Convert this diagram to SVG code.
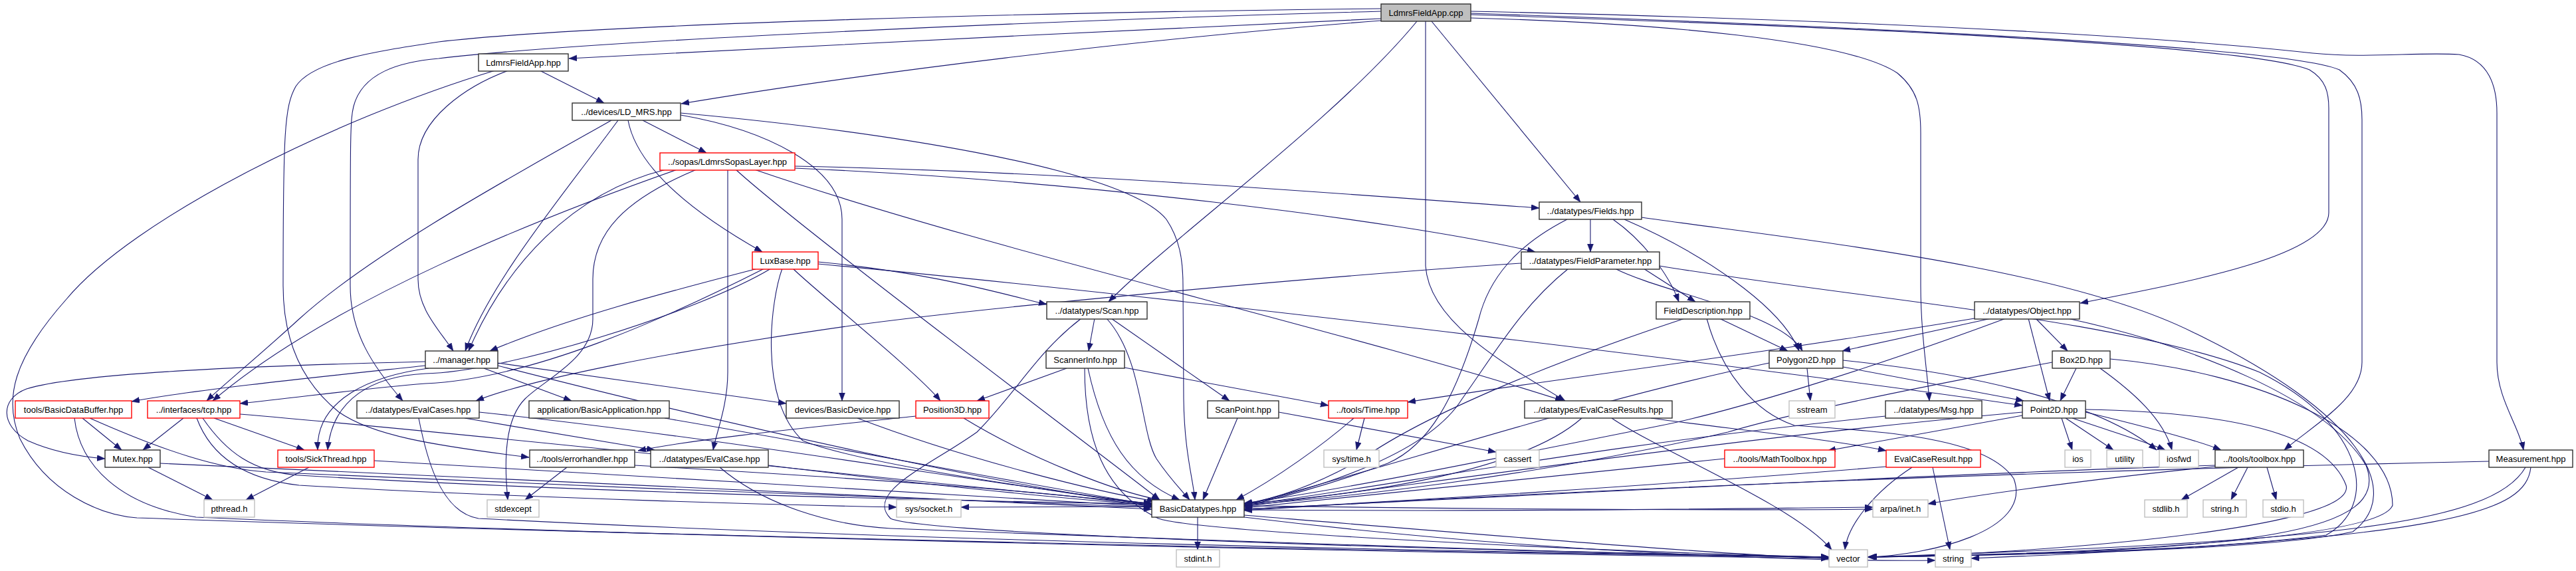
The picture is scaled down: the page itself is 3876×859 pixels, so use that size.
<svg xmlns="http://www.w3.org/2000/svg" width="3876" height="859" viewBox="0 0 3876 859">
<style>
.bg{fill:#ffffff}
.e{fill:none;stroke:#191970;stroke-width:1.1;marker-end:url(#ah)}
.n rect{fill:#ffffff;stroke:#303030;stroke-width:1.4}
.r rect{fill:#ffffff;stroke:#ff0000;stroke-width:1.4}
.g rect{fill:#ffffff;stroke:#bfbfbf;stroke-width:1.4}
.root rect{fill:#bfbfbf;stroke:#303030;stroke-width:1.4}
text{font-family:"Liberation Sans",Arial,sans-serif;font-size:13px;fill:#000000;text-anchor:middle}
</style>
<defs>
<marker id="ah" markerUnits="userSpaceOnUse" markerWidth="13" markerHeight="10" refX="12" refY="4.5" orient="auto">
<path d="M0,0 L12,4.5 L0,9 z" fill="#191970" stroke="#191970" stroke-width="0.5"/>
</marker>
</defs>
<rect class="bg" x="0" y="0" width="3876" height="859"/>
<g id="edges">
<path class="e" d="M2078,28 C1700,45 1200,70 856,88"/>
<path class="e" d="M2078,31 C1700,60 1300,110 1025,156"/>
<path class="e" d="M2078,13 C1600,18 900,35 660,63 C560,78 470,92 445,130 C428,160 426,200 426,430 C426,520 460,580 510,620 C560,655 650,670 796,688"/>
<path class="e" d="M2078,17 C1600,30 900,60 660,88 C600,93 545,110 532,160 C527,180 527,200 527,430 C527,500 560,550 606,603"/>
<path class="e" d="M2132,32 C2010,180 1760,360 1668,454"/>
<path class="e" d="M2145,32 L2145,400 C2150,480 2250,540 2355,603"/>
<path class="e" d="M2154,32 L2378,304"/>
<path class="e" d="M2213,27 C2500,35 2780,60 2855,110 C2885,135 2890,160 2890,200 L2890,430 C2890,500 2900,560 2903,603"/>
<path class="e" d="M2213,22 C2700,38 3380,65 3475,105 C3500,120 3504,140 3504,163 L3504,320 C3504,385 3290,425 3130,456"/>
<path class="e" d="M2213,20 C2800,40 3440,70 3520,105 C3548,125 3554,150 3554,180 L3554,545 C3554,600 3480,640 3437,677"/>
<path class="e" d="M2213,17 C2900,32 3300,60 3480,80 C3560,88 3640,78 3700,82 C3745,90 3757,130 3757,170 L3757,545 C3757,600 3790,640 3797,677"/>
<path class="e" d="M812,106 L909,155"/>
<path class="e" d="M765,106 C700,130 629,180 629,240 L629,420 C629,465 660,495 682,528"/>
<path class="e" d="M745,106 C500,180 200,330 100,450 C20,540 5,600 30,660 C70,740 150,775 206,779 C800,800 2000,830 2752,838"/>
<path class="e" d="M967,181 L1063,230"/>
<path class="e" d="M945,181 C960,260 1060,330 1147,379"/>
<path class="e" d="M930,181 C850,290 740,420 700,528"/>
<path class="e" d="M920,181 C780,260 560,380 450,480 C390,535 335,580 311,603"/>
<path class="e" d="M1024,173 C1150,195 1267,250 1267,330 L1267,603"/>
<path class="e" d="M1024,170 C1300,195 1690,250 1755,330 C1775,360 1780,390 1780,430 L1781,600 C1782,680 1795,720 1798,752"/>
<path class="e" d="M1019,255 C820,325 500,450 320,603"/>
<path class="e" d="M1002,255 C860,290 760,400 705,528"/>
<path class="e" d="M1048,255 C940,300 892,350 892,420 L892,480 C892,540 820,570 790,600 C760,630 758,690 764,752"/>
<path class="e" d="M1095,255 L1095,560 C1095,610 1078,650 1073,677"/>
<path class="e" d="M1107,255 C1200,340 1600,640 1745,752"/>
<path class="e" d="M1135,255 C1500,380 2000,490 2352,603"/>
<path class="e" d="M1196,250 C1600,258 2000,290 2316,313"/>
<path class="e" d="M1196,253 C1600,270 2100,330 2310,379"/>
<path class="e" d="M1140,404 C1000,440 850,480 737,528"/>
<path class="e" d="M1150,404 C1000,480 800,570 640,577 C540,585 450,598 361,607"/>
<path class="e" d="M1160,404 C1050,470 760,560 640,562 C560,566 500,600 493,677"/>
<path class="e" d="M1193,404 C1230,440 1380,560 1415,603"/>
<path class="e" d="M1177,404 C1160,450 1140,600 1208,663 C1300,700 1600,740 1733,760"/>
<path class="e" d="M1231,394 C1400,410 1500,440 1575,458"/>
<path class="e" d="M1231,397 C1800,450 2700,560 3043,610"/>
<path class="e" d="M640,544 C400,550 120,560 40,585 C0,600 0,640 42,663 C80,680 120,687 158,690"/>
<path class="e" d="M640,550 C500,565 300,585 198,604"/>
<path class="e" d="M645,554 C560,565 475,600 478,677"/>
<path class="e" d="M728,554 L860,603"/>
<path class="e" d="M749,546 L1183,607"/>
<path class="e" d="M749,550 C1100,640 1500,730 1733,760"/>
<path class="e" d="M124,629 L183,677"/>
<path class="e" d="M135,629 C250,680 330,705 400,710 C800,730 1400,750 1733,763"/>
<path class="e" d="M112,629 C120,700 180,760 295,778 C900,805 2000,830 2752,840"/>
<path class="e" d="M276,629 L215,677"/>
<path class="e" d="M322,629 L458,677"/>
<path class="e" d="M361,623 C800,660 1500,740 1733,757"/>
<path class="e" d="M296,629 C315,680 360,720 450,730 C800,750 1200,760 1349,763"/>
<path class="e" d="M305,629 C340,680 380,710 450,715 C1200,760 2400,770 2818,766"/>
<path class="e" d="M699,629 L985,677"/>
<path class="e" d="M721,620 C1100,660 1500,730 1733,758"/>
<path class="e" d="M630,629 C640,680 660,770 720,780 C1400,815 2200,830 2752,838"/>
<path class="e" d="M2289,396 C2000,415 1500,460 1280,490 C1000,530 800,570 716,603"/>
<path class="e" d="M1000,629 C1300,680 1600,740 1733,759"/>
<path class="e" d="M1290,629 C1450,690 1650,740 1738,754"/>
<path class="e" d="M1378,626 C1200,645 1050,660 960,678"/>
<path class="e" d="M1450,629 C1550,690 1680,740 1745,752"/>
<path class="e" d="M1647,479 L1638,528"/>
<path class="e" d="M1672,479 L1850,603"/>
<path class="e" d="M1665,479 C1720,540 1716,650 1740,690 C1760,720 1780,740 1790,752"/>
<path class="e" d="M1627,479 C1560,530 1530,590 1470,650 C1400,700 1300,740 1340,780 C1380,800 2000,825 2752,838"/>
<path class="e" d="M1605,554 L1470,603"/>
<path class="e" d="M1692,553 L1999,610"/>
<path class="e" d="M1637,554 C1660,660 1700,720 1775,752"/>
<path class="e" d="M1632,554 C1632,660 1660,740 1743,780 C1800,800 2400,830 2752,838"/>
<path class="e" d="M1862,629 L1810,752"/>
<path class="e" d="M1924,620 L2251,680"/>
<path class="e" d="M2053,629 L2041,677"/>
<path class="e" d="M2037,629 C1990,670 1920,720 1860,752"/>
<path class="e" d="M2393,330 L2393,379"/>
<path class="e" d="M2427,330 C2470,360 2510,410 2526,454"/>
<path class="e" d="M2444,330 C2560,380 2680,460 2707,528"/>
<path class="e" d="M2358,330 C2280,370 2240,420 2225,480 C2190,600 2150,670 2088,697 C2000,730 1920,750 1872,762"/>
<path class="e" d="M2470,327 C2700,360 3100,400 3300,500 C3550,620 3620,740 3540,800 C3400,830 3000,835 2810,838"/>
<path class="e" d="M2473,404 L2551,454"/>
<path class="e" d="M2430,404 C2500,440 2680,470 2712,528"/>
<path class="e" d="M2360,404 C2290,460 2250,530 2200,600 C2150,680 2000,730 1872,760"/>
<path class="e" d="M2497,400 C2800,450 3200,480 3400,560 C3560,640 3580,760 3500,805 C3300,830 3000,836 2810,838"/>
<path class="e" d="M2587,479 L2690,528"/>
<path class="e" d="M2535,479 C2350,540 2150,620 2050,690 C1980,730 1920,750 1872,758"/>
<path class="e" d="M2568,479 C2590,560 2640,620 2700,640 C2850,650 2990,660 3030,720 C3060,800 2900,835 2812,838"/>
<path class="e" d="M2971,479 C2600,540 2300,575 2118,605"/>
<path class="e" d="M2996,479 L2772,528"/>
<path class="e" d="M3018,479 C2800,560 2600,620 2500,640 C2200,700 2000,740 1872,757"/>
<path class="e" d="M3052,479 L3084,603"/>
<path class="e" d="M3063,479 L3111,528"/>
<path class="e" d="M3111,479 C3300,520 3500,600 3560,700 C3600,800 3400,830 2812,838"/>
<path class="e" d="M2719,554 L2724,603"/>
<path class="e" d="M2773,552 L3045,603"/>
<path class="e" d="M2662,546 C2400,600 2100,700 1872,760"/>
<path class="e" d="M2773,542 C2950,560 3150,600 3245,677"/>
<path class="e" d="M3124,554 L3100,603"/>
<path class="e" d="M3160,554 C3210,590 3255,630 3268,677"/>
<path class="e" d="M3088,545 C2900,580 2700,620 2600,650 C2300,720 2000,750 1872,760"/>
<path class="e" d="M3175,540 C3400,560 3600,650 3600,760 C3580,820 3000,836 2812,838"/>
<path class="e" d="M3102,629 L3118,677"/>
<path class="e" d="M3108,629 L3180,677"/>
<path class="e" d="M3118,629 C3180,650 3230,665 3258,677"/>
<path class="e" d="M3138,620 C3200,635 3300,660 3342,677"/>
<path class="e" d="M3043,625 L2750,678"/>
<path class="e" d="M3043,620 C2600,660 2200,720 1872,762"/>
<path class="e" d="M3138,616 C3350,620 3500,650 3530,730 C3550,800 3000,836 2812,838"/>
<path class="e" d="M2837,626 C2400,670 2100,730 1872,760"/>
<path class="e" d="M2595,690 C2300,720 2000,750 1872,764"/>
<path class="e" d="M2425,629 C2500,680 2700,760 2756,827"/>
<path class="e" d="M2484,629 C2600,645 2750,660 2838,678"/>
<path class="e" d="M2380,629 C2300,700 2100,740 1872,758"/>
<path class="e" d="M2877,703 C2820,740 2780,790 2776,827"/>
<path class="e" d="M2908,703 L2934,827"/>
<path class="e" d="M2838,702 C2500,730 2100,755 1872,766"/>
<path class="e" d="M3368,703 L3282,752"/>
<path class="e" d="M3382,703 L3357,752"/>
<path class="e" d="M3411,703 L3425,752"/>
<path class="e" d="M3333,700 C3000,710 2400,740 1872,766"/>
<path class="e" d="M3333,702 C3200,715 3000,740 2901,758"/>
<path class="e" d="M3745,694 C3000,710 2300,740 1872,768"/>
<path class="e" d="M3800,703 C3750,790 3500,815 2812,838"/>
<path class="e" d="M3808,703 C3800,770 3700,810 2966,840"/>
<path class="e" d="M223,703 L320,752"/>
<path class="e" d="M241,697 C500,710 1200,740 1733,766"/>
<path class="e" d="M465,703 L370,752"/>
<path class="e" d="M563,693 C900,710 1400,745 1733,762"/>
<path class="e" d="M853,703 L790,752"/>
<path class="e" d="M955,700 C1300,720 1600,740 1733,762"/>
<path class="e" d="M1156,700 C1400,730 1600,750 1733,760"/>
<path class="e" d="M1083,703 C1150,760 1250,790 1340,795 C2000,820 2500,835 2752,838"/>
<path class="e" d="M1802,778 L1802,827"/>
<path class="e" d="M1733,762 L1446,763"/>
<path class="e" d="M1872,767 C2300,770 2600,765 2818,763"/>
<path class="e" d="M1872,775 C2300,810 2600,835 2752,840"/>
<path class="e" d="M1872,778 C2300,830 2700,845 2912,843"/>
</g>
<g id="cpp" class="root"><rect x="2078" y="6" width="135" height="26"/><text x="2145.5" y="23.5">LdmrsFieldApp.cpp</text></g>
<g id="fapp_hpp" class="n"><rect x="720" y="81" width="135" height="26"/><text x="787.5" y="98.5">LdmrsFieldApp.hpp</text></g>
<g id="ldmrs" class="n"><rect x="861" y="155" width="163" height="26"/><text x="942.5" y="172.5">../devices/LD_MRS.hpp</text></g>
<g id="sopas" class="r"><rect x="993" y="230" width="203" height="26"/><text x="1094.5" y="247.5">../sopas/LdmrsSopasLayer.hpp</text></g>
<g id="fields" class="n"><rect x="2316" y="304" width="154" height="26"/><text x="2393" y="321.5">../datatypes/Fields.hpp</text></g>
<g id="luxbase" class="r"><rect x="1132" y="379" width="99" height="26"/><text x="1181.5" y="396.5">LuxBase.hpp</text></g>
<g id="fieldparam" class="n"><rect x="2289" y="379" width="208" height="26"/><text x="2393" y="396.5">../datatypes/FieldParameter.hpp</text></g>
<g id="scan" class="n"><rect x="1575" y="454" width="151" height="26"/><text x="1650.5" y="471.5">../datatypes/Scan.hpp</text></g>
<g id="fielddesc" class="n"><rect x="2492" y="454" width="141" height="26"/><text x="2562.5" y="471.5">FieldDescription.hpp</text></g>
<g id="object" class="n"><rect x="2971" y="454" width="158" height="26"/><text x="3050" y="471.5">../datatypes/Object.hpp</text></g>
<g id="manager" class="n"><rect x="640" y="528" width="109" height="26"/><text x="694.5" y="545.5">../manager.hpp</text></g>
<g id="scannerinfo" class="n"><rect x="1574" y="528" width="118" height="26"/><text x="1633" y="545.5">ScannerInfo.hpp</text></g>
<g id="polygon2d" class="n"><rect x="2662" y="528" width="111" height="26"/><text x="2717.5" y="545.5">Polygon2D.hpp</text></g>
<g id="box2d" class="n"><rect x="3088" y="528" width="87" height="26"/><text x="3131.5" y="545.5">Box2D.hpp</text></g>
<g id="bdb" class="r"><rect x="23" y="603" width="175" height="26"/><text x="110.5" y="620.5">tools/BasicDataBuffer.hpp</text></g>
<g id="tcp" class="r"><rect x="222" y="603" width="139" height="26"/><text x="291.5" y="620.5">../interfaces/tcp.hpp</text></g>
<g id="evalcases" class="n"><rect x="537" y="603" width="184" height="26"/><text x="629" y="620.5">../datatypes/EvalCases.hpp</text></g>
<g id="basicapp" class="n"><rect x="796" y="603" width="211" height="26"/><text x="901.5" y="620.5">application/BasicApplication.hpp</text></g>
<g id="basicdev" class="n"><rect x="1183" y="603" width="170" height="26"/><text x="1268" y="620.5">devices/BasicDevice.hpp</text></g>
<g id="pos3d" class="r"><rect x="1378" y="603" width="110" height="26"/><text x="1433" y="620.5">Position3D.hpp</text></g>
<g id="scanpoint" class="n"><rect x="1817" y="603" width="107" height="26"/><text x="1870.5" y="620.5">ScanPoint.hpp</text></g>
<g id="time" class="r"><rect x="1999" y="603" width="119" height="26"/><text x="2058.5" y="620.5">../tools/Time.hpp</text></g>
<g id="evalcaseresults" class="n"><rect x="2294" y="603" width="222" height="26"/><text x="2405" y="620.5">../datatypes/EvalCaseResults.hpp</text></g>
<g id="sstream" class="g"><rect x="2692" y="603" width="69" height="26"/><text x="2726.5" y="620.5">sstream</text></g>
<g id="msg" class="n"><rect x="2837" y="603" width="145" height="26"/><text x="2909.5" y="620.5">../datatypes/Msg.hpp</text></g>
<g id="point2d" class="n"><rect x="3043" y="603" width="95" height="26"/><text x="3090.5" y="620.5">Point2D.hpp</text></g>
<g id="mutex" class="n"><rect x="158" y="677" width="83" height="26"/><text x="199.5" y="694.5">Mutex.hpp</text></g>
<g id="sickthread" class="r"><rect x="418" y="677" width="145" height="26"/><text x="490.5" y="694.5">tools/SickThread.hpp</text></g>
<g id="errorhandler" class="n"><rect x="797" y="677" width="158" height="26"/><text x="876" y="694.5">../tools/errorhandler.hpp</text></g>
<g id="evalcase" class="n"><rect x="979" y="677" width="177" height="26"/><text x="1067.5" y="694.5">../datatypes/EvalCase.hpp</text></g>
<g id="systime" class="g"><rect x="1992" y="677" width="83" height="26"/><text x="2033.5" y="694.5">sys/time.h</text></g>
<g id="cassert" class="g"><rect x="2251" y="677" width="65" height="26"/><text x="2283.5" y="694.5">cassert</text></g>
<g id="mathtoolbox" class="r"><rect x="2595" y="677" width="166" height="26"/><text x="2678" y="694.5">../tools/MathToolbox.hpp</text></g>
<g id="evalcaseresult" class="r"><rect x="2838" y="677" width="142" height="26"/><text x="2909" y="694.5">EvalCaseResult.hpp</text></g>
<g id="ios" class="g"><rect x="3107" y="677" width="39" height="26"/><text x="3126.5" y="694.5">ios</text></g>
<g id="utility" class="g"><rect x="3170" y="677" width="54" height="26"/><text x="3197" y="694.5">utility</text></g>
<g id="iosfwd" class="g"><rect x="3249" y="677" width="59" height="26"/><text x="3278.5" y="694.5">iosfwd</text></g>
<g id="toolbox" class="n"><rect x="3333" y="677" width="133" height="26"/><text x="3399.5" y="694.5">../tools/toolbox.hpp</text></g>
<g id="measurement" class="n"><rect x="3745" y="677" width="126" height="26"/><text x="3808" y="694.5">Measurement.hpp</text></g>
<g id="pthread" class="g"><rect x="307" y="752" width="76" height="26"/><text x="345" y="769.5">pthread.h</text></g>
<g id="stdexcept" class="g"><rect x="733" y="752" width="78" height="26"/><text x="772" y="769.5">stdexcept</text></g>
<g id="syssocket" class="g"><rect x="1349" y="752" width="97" height="26"/><text x="1397.5" y="769.5">sys/socket.h</text></g>
<g id="basicdt" class="n"><rect x="1733" y="752" width="139" height="26"/><text x="1802.5" y="769.5">BasicDatatypes.hpp</text></g>
<g id="arpainet" class="g"><rect x="2818" y="752" width="83" height="26"/><text x="2859.5" y="769.5">arpa/inet.h</text></g>
<g id="stdlib" class="g"><rect x="3227" y="752" width="64" height="26"/><text x="3259" y="769.5">stdlib.h</text></g>
<g id="stringh" class="g"><rect x="3315" y="752" width="65" height="26"/><text x="3347.5" y="769.5">string.h</text></g>
<g id="stdio" class="g"><rect x="3405" y="752" width="61" height="26"/><text x="3435.5" y="769.5">stdio.h</text></g>
<g id="stdint" class="g"><rect x="1770" y="827" width="65" height="26"/><text x="1802.5" y="844.5">stdint.h</text></g>
<g id="vector" class="g"><rect x="2752" y="827" width="58" height="26"/><text x="2781" y="844.5">vector</text></g>
<g id="string" class="g"><rect x="2912" y="827" width="54" height="26"/><text x="2939" y="844.5">string</text></g>
</svg>
